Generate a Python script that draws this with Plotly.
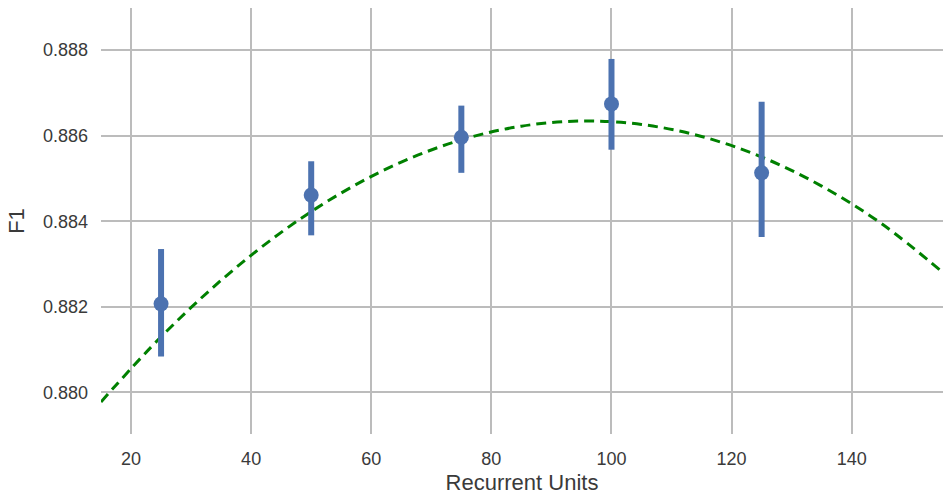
import plotly.graph_objects as go

# Measured points (mean F1 with error bar bounds)
units = [25, 50, 75, 100, 125]
f1_mean = [0.88207, 0.88461, 0.88596, 0.88674, 0.88513]
f1_upper = [0.88335, 0.88540, 0.88670, 0.88779, 0.88679]
f1_lower = [0.88084, 0.88367, 0.88513, 0.88567, 0.88363]

# Dashed trend curve
curve_x = [15, 25, 35, 45, 55, 65, 75, 85, 95, 105, 115, 125, 135, 145, 155.2]
curve_y = [0.87978, 0.88130, 0.88262, 0.88374, 0.88466, 0.88538, 0.88590,
           0.88622, 0.88634, 0.88626, 0.88598, 0.88550, 0.88482, 0.88394, 0.88280]

x_ticks = [20, 40, 60, 80, 100, 120, 140]
y_ticks = [0.880, 0.882, 0.884, 0.886, 0.888]

err_plus = [u - m for u, m in zip(f1_upper, f1_mean)]
err_minus = [m - l for m, l in zip(f1_mean, f1_lower)]

fig = go.Figure()
fig.add_trace(go.Scatter(
    x=curve_x, y=curve_y, mode="lines", line_shape="spline",
    line=dict(color="#008000", width=3, dash="10px,6px"),
    showlegend=False, hoverinfo="skip"))
fig.add_trace(go.Scatter(
    x=units, y=f1_mean, mode="markers",
    marker=dict(color="#4c72b0", size=15),
    error_y=dict(type="data", symmetric=False, array=err_plus, arrayminus=err_minus,
                 color="#4c72b0", thickness=6, width=0),
    showlegend=False))

font_family = "Liberation Sans, Arial, sans-serif"
fig.update_layout(
    width=943, height=497,
    margin=dict(l=101, r=0, t=8, b=63),
    paper_bgcolor="white", plot_bgcolor="white",
    font=dict(family=font_family, color="#3a3a3a", size=18),
)
fig.update_xaxes(
    range=[15, 155.2], tickvals=x_ticks, showgrid=True, gridcolor="#bcbcbc", gridwidth=1.6,
    zeroline=False, showline=False, ticks="", ticklabelstandoff=12,
    tickfont=dict(size=18, color="#3a3a3a"),
    title=dict(text="Recurrent Units", font=dict(size=22, color="#3a3a3a"), standoff=6),
)
fig.update_yaxes(
    range=[0.87903, 0.88898], tickvals=y_ticks, tickformat=".3f",
    showgrid=True, gridcolor="#bcbcbc", gridwidth=1.6,
    zeroline=False, showline=False, ticks="", ticklabelstandoff=12,
    tickfont=dict(size=18, color="#3a3a3a"),
    title=dict(text="F1", font=dict(size=22, color="#3a3a3a"), standoff=12),
)

fig.write_html("out.html", config={"displayModeBar": False},
               post_script="document.body.style.margin='0';document.body.style.overflow='hidden';")
